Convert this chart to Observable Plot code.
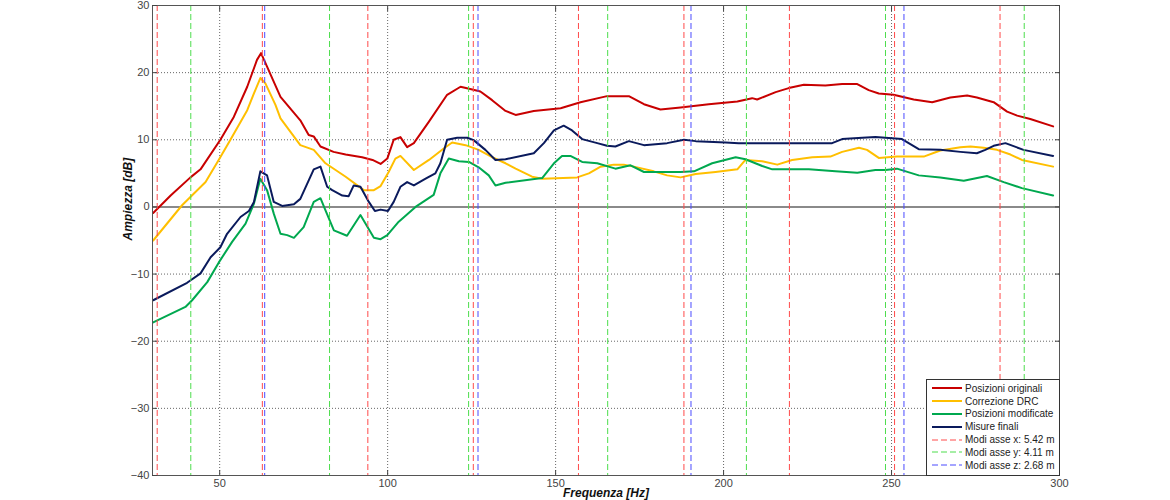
<!DOCTYPE html>
<html>
<head>
<meta charset="utf-8">
<script src="https://cdn.jsdelivr.net/npm/d3@7"></script>
<script src="https://cdn.jsdelivr.net/npm/@observablehq/plot@0.6"></script>
<style>
  html, body { margin: 0; padding: 0; background: #fff; }
  #wrap { position: relative; width: 1170px; height: 500px; overflow: hidden; font-family: "Liberation Sans", Arial, sans-serif; }
  #legend { position: absolute; left: 926px; top: 379px; width: 134px; height: 97px; box-sizing: border-box;
    border: 1px solid #333; background: #fff; padding-top: 2px; font-size: 10px; color: #222; }
  .row { height: 12.8px; display: flex; align-items: center; }
  .row svg { margin-left: 5px; margin-right: 3px; flex: none; }
</style>
</head>
<body>
<div id="wrap"><div id="legend"></div></div>
<script>
// Frequencies in Hz, amplitude in dB
const posizioniOriginali = [[30.2,-0.9],[35.4,1.7],[41.3,4.4],[44.3,5.6],[50.2,10.0],[54.2,13.4],[58.2,17.9],[61.1,21.9],[62.3,22.9],[64.1,20.9],[68.1,16.4],[74.0,12.9],[76.5,10.7],[78.0,10.5],[80.0,9.0],[83.9,8.2],[87.5,7.8],[92.4,7.4],[95.5,7.0],[97.9,6.4],[99.9,7.2],[101.8,10.0],[103.8,10.4],[105.8,8.9],[107.8,9.5],[112.3,12.7],[117.7,16.7],[121.7,17.9],[125.2,17.5],[127.6,17.2],[131.1,15.9],[135.1,14.3],[138.1,13.7],[143.5,14.3],[151.5,14.7],[157.4,15.6],[165.3,16.5],[171.8,16.5],[176.3,15.3],[181.2,14.5],[187.2,14.8],[195.6,15.3],[204.1,15.7],[208.5,16.2],[210.0,16.0],[215.5,17.1],[219.4,17.7],[223.9,18.2],[230.3,18.1],[235.3,18.3],[239.8,18.3],[243.2,17.4],[246.2,16.9],[250.6,16.7],[256.6,16.0],[262.1,15.6],[267.5,16.3],[272.5,16.6],[275.4,16.3],[280.4,15.6],[284.4,14.2],[287.4,13.6],[291.3,13.1],[298.1,12.0]];
const correzioneDRC = [[30.2,-5.0],[38.8,0.25],[45.8,3.7],[49.7,7.0],[53.2,10.0],[58.2,14.4],[60.2,16.9],[62.1,19.2],[63.6,18.4],[66.6,15.2],[68.1,13.2],[74.0,9.2],[78.0,8.5],[81.5,6.5],[87.5,4.5],[92.9,2.5],[95.9,2.5],[97.9,3.1],[100.3,5.2],[102.3,7.2],[103.8,7.6],[107.8,5.5],[112.3,7.0],[116.7,8.7],[119.2,9.6],[123.2,9.2],[127.1,8.5],[131.1,7.4],[135.1,6.5],[138.1,5.7],[143.0,4.5],[146.0,4.2],[156.4,4.4],[159.9,5.0],[163.4,6.0],[167.3,6.3],[170.3,6.3],[173.3,6.0],[179.2,5.3],[183.2,4.7],[187.2,4.4],[191.7,4.9],[197.6,5.2],[204.1,5.6],[206.5,7.0],[211.5,6.8],[216.0,6.3],[220.4,7.0],[226.4,7.4],[231.8,7.5],[235.3,8.2],[240.3,8.8],[242.7,8.5],[246.2,7.3],[251.6,7.5],[259.6,7.5],[264.5,8.4],[270.5,8.9],[273.5,9.0],[277.4,8.8],[281.4,8.5],[285.4,7.8],[288.8,7.0],[298.1,6.0]];
const posizioniModificate = [[30.2,-17.2],[39.8,-14.9],[41.8,-13.9],[46.3,-11.2],[49.7,-8.3],[53.7,-5.2],[57.7,-2.5],[60.2,0.5],[62.1,4.2],[64.1,2.5],[66.1,-1.0],[68.1,-4.0],[70.1,-4.2],[72.1,-4.6],[75.0,-3.0],[78.0,0.75],[80.0,1.3],[81.5,-0.5],[84.0,-3.5],[87.9,-4.3],[91.9,-1.2],[95.9,-4.6],[97.9,-4.8],[99.9,-4.2],[103.3,-2.2],[108.3,0],[113.7,1.8],[115.7,5.0],[118.2,7.2],[121.2,6.8],[124.2,6.7],[127.1,5.9],[130.1,4.7],[132.1,3.2],[135.1,3.6],[146.0,4.3],[149.5,6.5],[151.9,7.6],[154.4,7.6],[157.9,6.7],[162.4,6.5],[167.8,5.7],[172.3,6.2],[176.3,5.2],[187.2,5.2],[191.2,5.3],[196.6,6.5],[203.6,7.4],[206.5,7.1],[211.5,6.1],[214.5,5.6],[225.4,5.6],[233.3,5.3],[239.8,5.1],[245.2,5.5],[248.2,5.5],[251.6,5.7],[258.1,4.7],[264.5,4.4],[271.5,3.9],[278.4,4.6],[283.4,3.7],[288.8,2.8],[298.1,1.7]];
const misureFinali = [[30.2,-13.9],[40.3,-11.3],[44.3,-9.9],[47.3,-7.5],[50.2,-6.0],[52.2,-4.0],[56.2,-1.5],[58.7,-0.6],[60.2,0.75],[62.1,5.3],[64.1,4.7],[66.1,0.75],[68.6,0.15],[72.1,0.4],[74.0,1.2],[78.0,5.6],[80.0,6.0],[82.0,3.0],[83.5,2.5],[86.5,1.7],[88.4,1.6],[89.9,3.2],[91.9,3.0],[94.4,0.75],[96.2,-0.6],[97.9,-0.4],[100.1,-0.6],[101.8,0.75],[103.8,3.0],[105.8,3.7],[107.8,3.2],[111.3,4.2],[114.2,5.0],[115.7,6.5],[117.7,10.0],[120.7,10.3],[123.7,10.3],[125.6,9.95],[129.1,8.5],[132.1,7.0],[135.1,7.1],[143.5,8.0],[146.5,9.5],[149.5,11.4],[152.4,12.1],[154.9,11.4],[157.9,10.1],[162.4,9.5],[165.3,9.1],[167.8,9.0],[171.8,9.8],[176.3,9.2],[183.2,9.5],[188.2,10.0],[191.7,9.8],[200.6,9.6],[204.5,9.5],[215.5,9.5],[232.3,9.5],[235.3,10.1],[241.3,10.3],[245.2,10.4],[248.2,10.3],[253.1,10.1],[258.1,8.6],[264.5,8.5],[270.5,8.2],[275.4,8.0],[277.9,8.5],[280.4,9.1],[283.9,9.5],[289.3,8.5],[298.1,7.6]];

// Room mode frequencies (Hz)
const modiX = [31.4, 62.7, 94.1, 125.5, 156.8, 188.2, 219.6, 250.9, 282.3];
const modiY = [41.4, 82.7, 124.1, 165.5, 206.8, 248.2, 289.5];
const modiZ = [63.4, 126.9, 190.3, 253.7];

const xTicks = [50, 100, 150, 200, 250, 300];
const yTicks = [-40, -30, -20, -10, 0, 10, 20, 30];

const series = [
  {name: "Posizioni originali", data: posizioniOriginali, color: "#c80000"},
  {name: "Correzione DRC", data: correzioneDRC, color: "#ffbf00"},
  {name: "Posizioni modificate", data: posizioniModificate, color: "#00a84f"},
  {name: "Misure finali", data: misureFinali, color: "#0a1a5c"}
];
const modes = [
  {name: "Modi asse x: 5.42 m", data: modiX, color: "#ff4a4a"},
  {name: "Modi asse y: 4.11 m", data: modiY, color: "#4ddd4d"},
  {name: "Modi asse z: 2.68 m", data: modiZ, color: "#4a4aff"}
];

const chart = Plot.plot({
  width: 1170, height: 500,
  marginLeft: 152, marginRight: 111, marginTop: 5, marginBottom: 25,
  x: {domain: [30, 300]},
  y: {domain: [-40, 30]},
  style: {fontFamily: "'Liberation Sans', Arial, sans-serif", fontSize: "11px", color: "#333", background: "white"},
  marks: [
    Plot.gridX(xTicks.filter(d => d < 300), {stroke: "#666", strokeOpacity: 1, strokeDasharray: "1,2"}),
    Plot.gridY(yTicks.filter(d => d > -40 && d < 30 && d !== 0), {stroke: "#666", strokeOpacity: 1, strokeDasharray: "1,2"}),
    Plot.ruleY([0], {stroke: "#8a8a8a", strokeWidth: 2}),
    ...series.map(s => Plot.line(s.data, {x: d => d[0], y: d => d[1], stroke: s.color, strokeWidth: 2})),
    ...modes.map(m => Plot.ruleX(m.data, {stroke: m.color, strokeWidth: 1, strokeDasharray: "6,3"})),
    Plot.frame({stroke: "#555"}),
    Plot.axisX(xTicks, {anchor: "bottom", tickSize: 0, tickPadding: 4, label: null, fill: "#444"}),
    Plot.axisX(xTicks, {anchor: "bottom", tickSize: -5, tickFormat: () => "", label: null, stroke: "#444"}),
    Plot.axisX(xTicks, {anchor: "top", tickSize: -5, tickFormat: () => "", label: null, stroke: "#444"}),
    Plot.axisY(yTicks, {anchor: "left", tickSize: 0, tickPadding: 3, label: null, fill: "#444"}),
    Plot.axisY(yTicks, {anchor: "left", tickSize: -5, tickFormat: () => "", label: null, stroke: "#444"}),
    Plot.axisY(yTicks, {anchor: "right", tickSize: -5, tickFormat: () => "", label: null, stroke: "#444"}),
    Plot.text(["Frequenza [Hz]"], {text: d => d, frameAnchor: "bottom", dy: 21, fontWeight: "bold", fontStyle: "italic", fontSize: 12, fill: "#111"}),
    Plot.text(["Ampiezza [dB]"], {text: d => d, frameAnchor: "left", dx: -24, rotate: -90, fontWeight: "bold", fontStyle: "italic", fontSize: 12, fill: "#111"})
  ]
});
document.getElementById("wrap").prepend(chart);

const legend = document.getElementById("legend");
const entries = [...series.map(s => ({...s, dash: null, w: 2})), ...modes.map(m => ({...m, dash: "6,3", w: 1}))];
for (const e of entries) {
  const row = document.createElement("div");
  row.className = "row";
  row.innerHTML = `<svg width="30" height="6"><line x1="0" x2="30" y1="3" y2="3" stroke="${e.color}" stroke-width="${e.w}" ${e.dash ? `stroke-dasharray="${e.dash}"` : ""}/></svg><span>${e.name}</span>`;
  legend.appendChild(row);
}
</script>
</body>
</html>
